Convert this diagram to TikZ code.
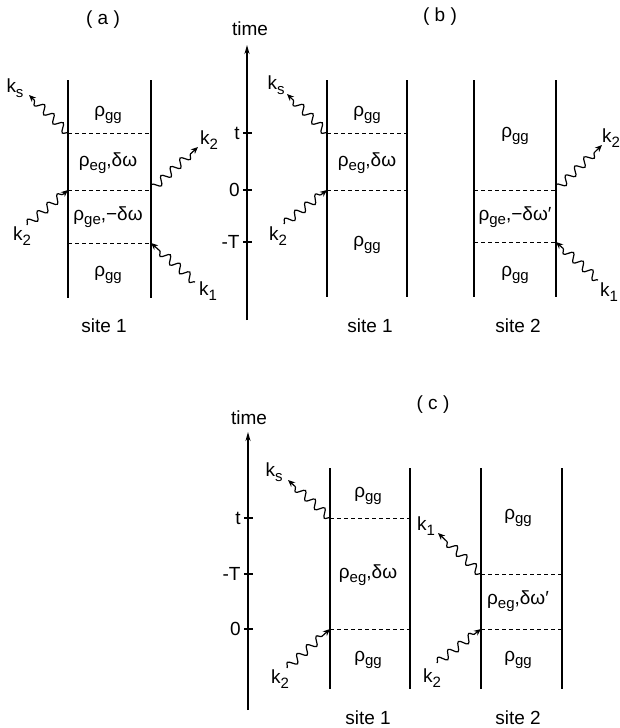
\documentclass[tikz,border=0pt]{standalone}
\usepackage{fontspec}
\setmainfont{Liberation Sans}
\usepackage{tikz}
\usetikzlibrary{arrows.meta, decorations.pathmorphing, calc}
\newcommand{\lsub}[1]{\raisebox{-0.45ex}{\fontsize{7.5}{8}\selectfont #1}}

\begin{document}
\begin{tikzpicture}[x=0.5pt, y=-0.5pt, font=\fontsize{9.5}{10}\selectfont,
  site/.style={line width=1.1pt},
  level/.style={line width=0.5pt, dash pattern=on 2pt off 1.5pt},
  photon/.style={line width=0.6pt, decorate,
    decoration={snake, amplitude=2pt, segment length=6.5pt, post length=3pt},
    -{Stealth[length=3.5pt, width=3pt]}},
  timeax/.style={line width=0.8pt, -{Stealth[length=4.5pt, width=2.5pt]}},
  tickmark/.style={line width=0.6pt}]
\useasboundingbox (0,0) rectangle (620,728);
% panel (a)
\node (lbla) at (103,20) {( a )};
\coordinate (a1t) at (68,80);  \coordinate (a1b) at (68,298);
\coordinate (a2t) at (151,80); \coordinate (a2b) at (151,298);
\draw[site] (a1t) -- (a1b);
\draw[site] (a2t) -- (a2b);
\coordinate (as) at (68,133); \coordinate (ae) at (68,190); \coordinate (ag) at (151,243);
\draw[level] (as) -- (as -| a2t);
\draw[level] (ae) -- (ae -| a2t);
\draw[level] (ag -| a1t) -- (ag);
\node (arho1) at (108,115) {ρ\lsub{gg}};
\node (arho2) at (108,163) {ρ\lsub{eg},δω};
\node (arho3) at (108,217) {ρ\lsub{ge},−δω};
\node (arho4) at (108,275) {ρ\lsub{gg}};
\coordinate (aks) at (29,95);
\draw[photon] (as) -- (aks);
\node (aksl) at (15,88) {k\lsub{s}};
\coordinate (ak2) at (27,225);
\draw[photon] (ak2) -- (ae);
\node (ak2l) at (22,236) {k\lsub{2}};
\coordinate (ak2o) at (198,147);
\draw[photon] (ae -| a2t) -- (ak2o);
\node (ak2ol) at (209,140) {k\lsub{2}};
\coordinate (ak1) at (195,282);
\draw[photon] (ak1) -- (ag);
\node (ak1l) at (208,291) {k\lsub{1}};
\node (asite) at (104,326) {site 1};

% panel (b)
\node (lblb) at (440,17) {( b )};
\coordinate (btop) at (247,45); \coordinate (bbot) at (247,320);
\draw[timeax] (bbot) -- (btop);
\node (btime) at (250,29) {time};
\foreach \y/\t in {133/t, 190/0, 242/-T} {
  \draw[tickmark] (243,\y) -- (252,\y);
  \node[anchor=east, inner sep=1pt] (btick\y) at (242,\y) {\t};
}
% site 1
\coordinate (b1t) at (327,80); \coordinate (b1b) at (327,297);
\coordinate (b2t) at (407,80); \coordinate (b2b) at (407,297);
\draw[site] (b1t) -- (b1b);
\draw[site] (b2t) -- (b2b);
\coordinate (bs) at (327,133); \coordinate (be) at (327,190);
\draw[level] (bs) -- (bs -| b2t);
\draw[level] (be) -- (be -| b2t);
\node (brho1) at (367,115) {ρ\lsub{gg}};
\node (brho2) at (367,163) {ρ\lsub{eg},δω};
\node (brho3) at (367,245) {ρ\lsub{gg}};
\coordinate (bks) at (287,94);
\draw[photon] (bs) -- (bks);
\node (bksl) at (276,85) {k\lsub{s}};
\coordinate (bk2) at (284,224);
\draw[photon] (bk2) -- (be);
\node (bk2l) at (278,236) {k\lsub{2}};
\node (bsite1) at (370,326) {site 1};
% site 2
\coordinate (b3t) at (474,80); \coordinate (b3b) at (474,297);
\coordinate (b4t) at (556,80); \coordinate (b4b) at (556,297);
\draw[site] (b3t) -- (b3b);
\draw[site] (b4t) -- (b4b);
\coordinate (bu) at (556,190); \coordinate (bg) at (556,242);
\draw[level] (bu -| b3t) -- (bu);
\draw[level] (bg -| b3t) -- (bg);
\node (brho4) at (515,136) {ρ\lsub{gg}};
\node (brho5) at (515,217) {ρ\lsub{ge},−δω′};
\node (brho6) at (515,275) {ρ\lsub{gg}};
\coordinate (bk2o) at (602,145);
\draw[photon] (bu) -- (bk2o);
\node (bk2ol) at (611,138) {k\lsub{2}};
\coordinate (bk1) at (598,280);
\draw[photon] (bk1) -- (bg);
\node (bk1l) at (609,292) {k\lsub{1}};
\node (bsite2) at (518,326) {site 2};

% panel (c)
\node (lblc) at (433,405) {( c )};
\coordinate (ctop) at (248,432); \coordinate (cbot) at (248,710);
\draw[timeax] (cbot) -- (ctop);
\node (ctime) at (249,418) {time};
\foreach \y/\t in {518/t, 574/-T, 629/0} {
  \draw[tickmark] (244,\y) -- (253,\y);
  \node[anchor=east, inner sep=1pt] (ctick\y) at (243,\y) {\t};
}
% site 1
\coordinate (c1t) at (330,468); \coordinate (c1b) at (330,689);
\coordinate (c2t) at (410,468); \coordinate (c2b) at (410,689);
\draw[site] (c1t) -- (c1b);
\draw[site] (c2t) -- (c2b);
\coordinate (cs) at (330,518); \coordinate (ce) at (330,629);
\draw[level] (cs) -- (cs -| c2t);
\draw[level] (ce) -- (ce -| c2t);
\node (crho1) at (368,496) {ρ\lsub{gg}};
\node (crho2) at (368,575) {ρ\lsub{eg},δω};
\node (crho3) at (368,660) {ρ\lsub{gg}};
\coordinate (cks) at (288,480);
\draw[photon] (cs) -- (cks);
\node (cksl) at (274,472) {k\lsub{s}};
\coordinate (ck2) at (287,668);
\draw[photon] (ck2) -- (ce);
\node (ck2l) at (280,679) {k\lsub{2}};
\node (csite1) at (368,718) {site 1};
% site 2
\coordinate (c3t) at (481,468); \coordinate (c3b) at (481,689);
\coordinate (c4t) at (562,468); \coordinate (c4b) at (562,689);
\draw[site] (c3t) -- (c3b);
\draw[site] (c4t) -- (c4b);
\coordinate (cf) at (481,574); \coordinate (cg) at (481,629);
\draw[level] (cf) -- (cf -| c4t);
\draw[level] (cg) -- (cg -| c4t);
\node (crho4) at (518,518) {ρ\lsub{gg}};
\node (crho5) at (518,601) {ρ\lsub{eg},δω′};
\node (crho6) at (518,660) {ρ\lsub{gg}};
\coordinate (ck1) at (438,533);
\draw[photon] (cf) -- (ck1);
\node (ck1l) at (426,526) {k\lsub{1}};
\coordinate (ck2b) at (437,663);
\draw[photon] (ck2b) -- (cg);
\node (ck2bl) at (432,678) {k\lsub{2}};
\node (csite2) at (518,718) {site 2};
\end{tikzpicture}
\end{document}
